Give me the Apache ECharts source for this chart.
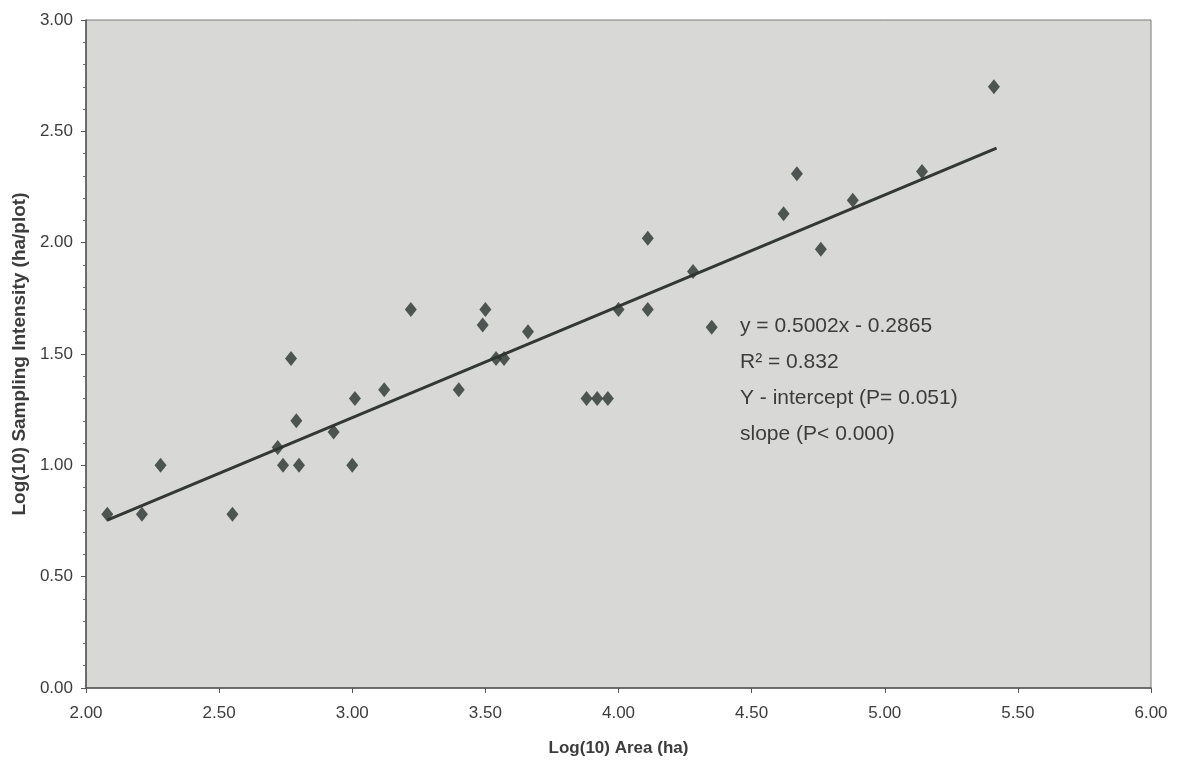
<!DOCTYPE html>
<html>
<head>
<meta charset="utf-8">
<script src="https://cdn.jsdelivr.net/npm/echarts@6/dist/echarts.min.js"></script>
<style>
html, body { margin: 0; padding: 0; background: #fff; }
#chart { width: 1179px; height: 782px; }
</style>
</head>
<body>
<div id="chart"></div>
<script>
// values
var areaLog = [2.08, 2.21, 2.28, 2.55, 2.72, 2.74, 2.77, 2.79, 2.80, 2.93, 3.00, 3.01, 3.12, 3.22, 3.40,
	3.49, 3.50, 3.54, 3.57, 3.66, 3.88, 3.92, 3.96, 4.00, 4.11, 4.11, 4.28, 4.35, 4.62, 4.67, 4.76, 4.88, 5.14, 5.41];
var intensityLog = [0.78, 0.78, 1.00, 0.78, 1.08, 1.00, 1.48, 1.20, 1.00, 1.15, 1.00, 1.30, 1.34, 1.70, 1.34,
	1.63, 1.70, 1.48, 1.48, 1.60, 1.30, 1.30, 1.30, 1.70, 2.02, 1.70, 1.87, 1.62, 2.13, 2.31, 1.97, 2.19, 2.32, 2.70];
// fitted line as drawn (end points)
var trendX = [2.08, 5.42];
var trendY = [0.754, 2.425];
var noteLines = ['y = 0.5002x - 0.2865', 'R\u00b2 = 0.832', 'Y - intercept (P= 0.051)', 'slope (P< 0.000)'];

var chart = echarts.init(document.getElementById('chart'));

var points = [];
for (var i = 0; i < areaLog.length; i++) {
	points.push([areaLog[i], intensityLog[i]]);
}
var trend = [];
for (var j = 0; j < trendX.length; j++) {
	trend.push([trendX[j], trendY[j]]);
}

var textColor = '#3c3c3c';
var font = 'Liberation Sans, Arial, sans-serif';

var notes = [];
for (var k = 0; k < noteLines.length; k++) {
	notes.push({
		type: 'text',
		left: 740,
		top: 316 + k * 36,
		style: {
			text: noteLines[k],
			fill: textColor,
			font: '21px ' + font
		}
	});
}

var option = {
	backgroundColor: '#fff',
	animation: false,
	grid: {
		left: 86,
		right: 28,
		top: 20,
		bottom: 94,
		show: true,
		backgroundColor: '#d8d8d6',
		borderColor: '#7a7a7a',
		borderWidth: 1
	},
	xAxis: {
		type: 'value',
		min: 2,
		max: 6,
		interval: 0.5,
		name: 'Log(10) Area (ha)',
		nameLocation: 'middle',
		nameGap: 52,
		nameTextStyle: { color: textColor, fontSize: 17, fontWeight: 'bold', fontFamily: font },
		axisLine: { lineStyle: { color: '#555', width: 1.5 } },
		axisTick: { show: true, length: 5, lineStyle: { color: '#555' } },
		splitLine: { show: false },
		axisLabel: {
			color: textColor,
			fontSize: 17,
			fontFamily: font,
			margin: 17,
			formatter: function (v) { return v.toFixed(2); }
		}
	},
	yAxis: {
		type: 'value',
		min: 0,
		max: 3,
		interval: 0.5,
		name: 'Log(10) Sampling Intensity (ha/plot)',
		nameLocation: 'middle',
		nameGap: 57,
		nameTextStyle: { color: textColor, fontSize: 19, fontWeight: 'bold', fontFamily: font },
		axisLine: { show: true, lineStyle: { color: '#555', width: 1.5 } },
		axisTick: { show: true, length: 5, lineStyle: { color: '#555' } },
		minorTick: { show: true, splitNumber: 5, length: 3, lineStyle: { color: '#666' } },
		splitLine: { show: false },
		axisLabel: {
			color: textColor,
			fontSize: 17,
			fontFamily: font,
			margin: 13,
			formatter: function (v) { return v.toFixed(2); }
		}
	},
	series: [
		{
			name: 'plots',
			type: 'scatter',
			symbol: 'diamond',
			symbolSize: [12, 15],
			itemStyle: { color: '#2b3531' },
			data: points,
			z: 3
		},
		{
			name: 'fit',
			type: 'line',
			symbol: 'none',
			lineStyle: { color: '#333834', width: 3 },
			data: trend,
			z: 2
		}
	],
	graphic: notes
};

chart.setOption(option);
</script>
</body>
</html>
